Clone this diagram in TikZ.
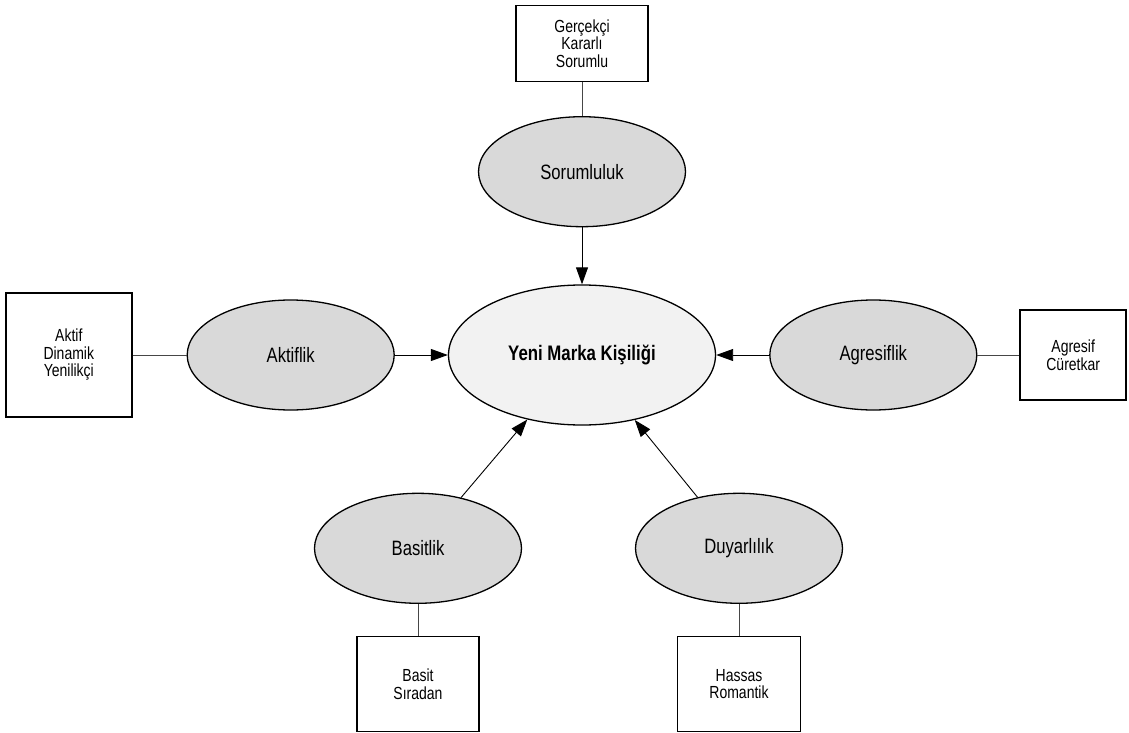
\documentclass[tikz,border=0pt]{standalone}
\usepackage{fontspec}
\setmainfont{Liberation Sans}
\newfontfamily\narrowsans[FakeStretch=0.8]{Liberation Sans}
\usepackage{xcolor}
\usetikzlibrary{shapes.geometric,arrows.meta,positioning}
\definecolor{corecolor}{RGB}{242,242,242}
\definecolor{traitcolor}{RGB}{217,217,217}
\definecolor{linkcolor}{RGB}{70,70,70}

\begin{document}
\begin{tikzpicture}[
    x=1pt, y=1pt,
    core/.style={ellipse, fill=corecolor, draw=black, line width=1.3pt, inner sep=0pt, minimum width=267pt, minimum height=140pt, font=\narrowsans\fontsize{21}{24}\selectfont\bfseries},
    trait/.style={ellipse, fill=traitcolor, draw=black, line width=1.3pt, inner sep=0pt, minimum width=207pt, minimum height=110pt, font=\narrowsans\fontsize{20.8}{24}\selectfont},
    adjbox/.style={rectangle, fill=white, draw=black, line width=1.5pt, inner sep=0pt, align=center, font=\narrowsans\fontsize{17.5}{17.5}\selectfont},
    arrow/.style={-{Triangle[length=17pt,width=12pt]}, line width=0.9pt, black},
    link/.style={line width=1pt, linkcolor}
]
\useasboundingbox (0,0) rectangle (1129,-733);

% Central personality
\node[core] (core) at (582,-355) {Yeni Marka Kişiliği};

% Personality dimensions around it
\node[trait, above=57pt of core] (sorum) {Sorumluluk};
\node[trait, left=53pt of core] (aktif) {Aktiflik};
\node[trait, right=53pt of core] (agres) {Agresiflik};
\node[trait, below=67pt of core, xshift=-164pt] (basit) {Basitlik};
\node[trait, below=67pt of core, xshift=157pt] (duyar) {Duyarlılık};

% Adjectives of each dimension
\node[adjbox, minimum width=132pt, minimum height=76pt, above=34pt of sorum] (sorumadj) {Gerçekçi\\Kararlı\\Sorumlu};
\node[adjbox, minimum width=126pt, minimum height=124pt, left=54pt of aktif] (aktifadj) {Aktif\\Dinamik\\Yenilikçi};
\node[adjbox, minimum width=106pt, minimum height=90pt, right=42pt of agres] (agresadj) {Agresif\\Cüretkar};
\node[adjbox, minimum width=122pt, minimum height=95pt, below=32pt of basit] (basitadj) {Basit\\Sıradan};
\node[adjbox, minimum width=123pt, minimum height=95pt, below=32pt of duyar] (duyaradj) {Hassas\\Romantik};

% Adjectives tied to their dimension
\draw[link] (sorumadj) -- (sorum);
\draw[link] (aktifadj) -- (aktif);
\draw[link] (agresadj) -- (agres);
\draw[link] (basitadj) -- (basit);
\draw[link] (duyaradj) -- (duyar);

% Dimensions feed the new personality
\draw[arrow] (sorum) -- (core);
\draw[arrow] (aktif) -- (core);
\draw[arrow] (agres) -- (core);
\draw[arrow] (basit) -- (core);
\draw[arrow] (duyar) -- (core);

\end{tikzpicture}
\end{document}
